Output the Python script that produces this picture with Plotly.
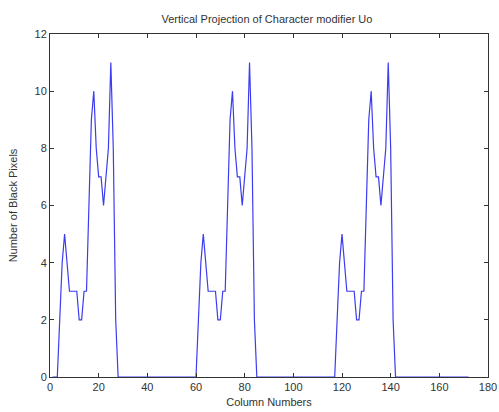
import plotly.graph_objects as go

columns = list(range(1, 173))

projection = [
    # columns 1-28
    0, 0, 0, 2, 4, 5, 4, 3, 3, 3, 3, 2, 2, 3, 3, 6, 9, 10, 8, 7, 7, 6, 7, 8, 11, 8, 2, 0,
    # columns 29-59
    0, 0, 0, 0, 0, 0, 0, 0, 0, 0, 0, 0, 0, 0, 0, 0, 0, 0, 0, 0, 0, 0, 0, 0, 0, 0, 0, 0, 0, 0, 0,
    # columns 60-85
    0, 2, 4, 5, 4, 3, 3, 3, 3, 2, 2, 3, 3, 6, 9, 10, 8, 7, 7, 6, 7, 8, 11, 8, 2, 0,
    # columns 86-116
    0, 0, 0, 0, 0, 0, 0, 0, 0, 0, 0, 0, 0, 0, 0, 0, 0, 0, 0, 0, 0, 0, 0, 0, 0, 0, 0, 0, 0, 0, 0,
    # columns 117-142
    0, 2, 4, 5, 4, 3, 3, 3, 3, 2, 2, 3, 3, 6, 9, 10, 8, 7, 7, 6, 7, 8, 11, 8, 2, 0,
    # columns 143-172
    0, 0, 0, 0, 0, 0, 0, 0, 0, 0, 0, 0, 0, 0, 0, 0, 0, 0, 0, 0, 0, 0, 0, 0, 0, 0, 0, 0, 0, 0,
]

x_ticks = [0, 20, 40, 60, 80, 100, 120, 140, 160, 180]
y_ticks = [0, 2, 4, 6, 8, 10, 12]

title_text = "Vertical Projection of Character modifier Uo"
x_title = "Column Numbers"
y_title = "Number of Black Pixels"

fig = go.Figure()
fig.add_trace(go.Scatter(
    x=columns, y=projection, mode="lines",
    line=dict(color="#3c3cf0", width=1.2),
    hoverinfo="x+y", showlegend=False,
))

axis_common = dict(
    showline=True, linecolor="#333333", linewidth=1, mirror="ticks",
    ticks="inside", ticklen=4, tickcolor="#333333", tickwidth=1,
    showgrid=False, zeroline=False, automargin=False,
    ticklabeloverflow="allow",
    tickfont=dict(family="Liberation Sans, Arial, sans-serif", size=11, color="#333333"),
)

fig.update_layout(
    width=499, height=412,
    margin=dict(l=50, r=11, t=34, b=35),
    paper_bgcolor="white", plot_bgcolor="white",
    font=dict(family="Liberation Sans, Arial, sans-serif", size=11, color="#333333"),
    title=dict(text=title_text, x=0.535, xanchor="center", y=1 - 19 / 412,
               yanchor="middle", yref="container",
               font=dict(size=11, color="#333333")),
    xaxis=dict(range=[0, 180], tickvals=x_ticks, ticktext=[str(v) for v in x_ticks],
               title=dict(text=x_title, standoff=6, font=dict(size=11)), **axis_common),
    yaxis=dict(range=[0, 12], tickvals=y_ticks, ticktext=[str(v) for v in y_ticks],
               title=dict(text=y_title, standoff=14, font=dict(size=11)), **axis_common),
)

fig.write_html("out.html", config={"displayModeBar": False},
               post_script="document.body.style.margin='0';")
